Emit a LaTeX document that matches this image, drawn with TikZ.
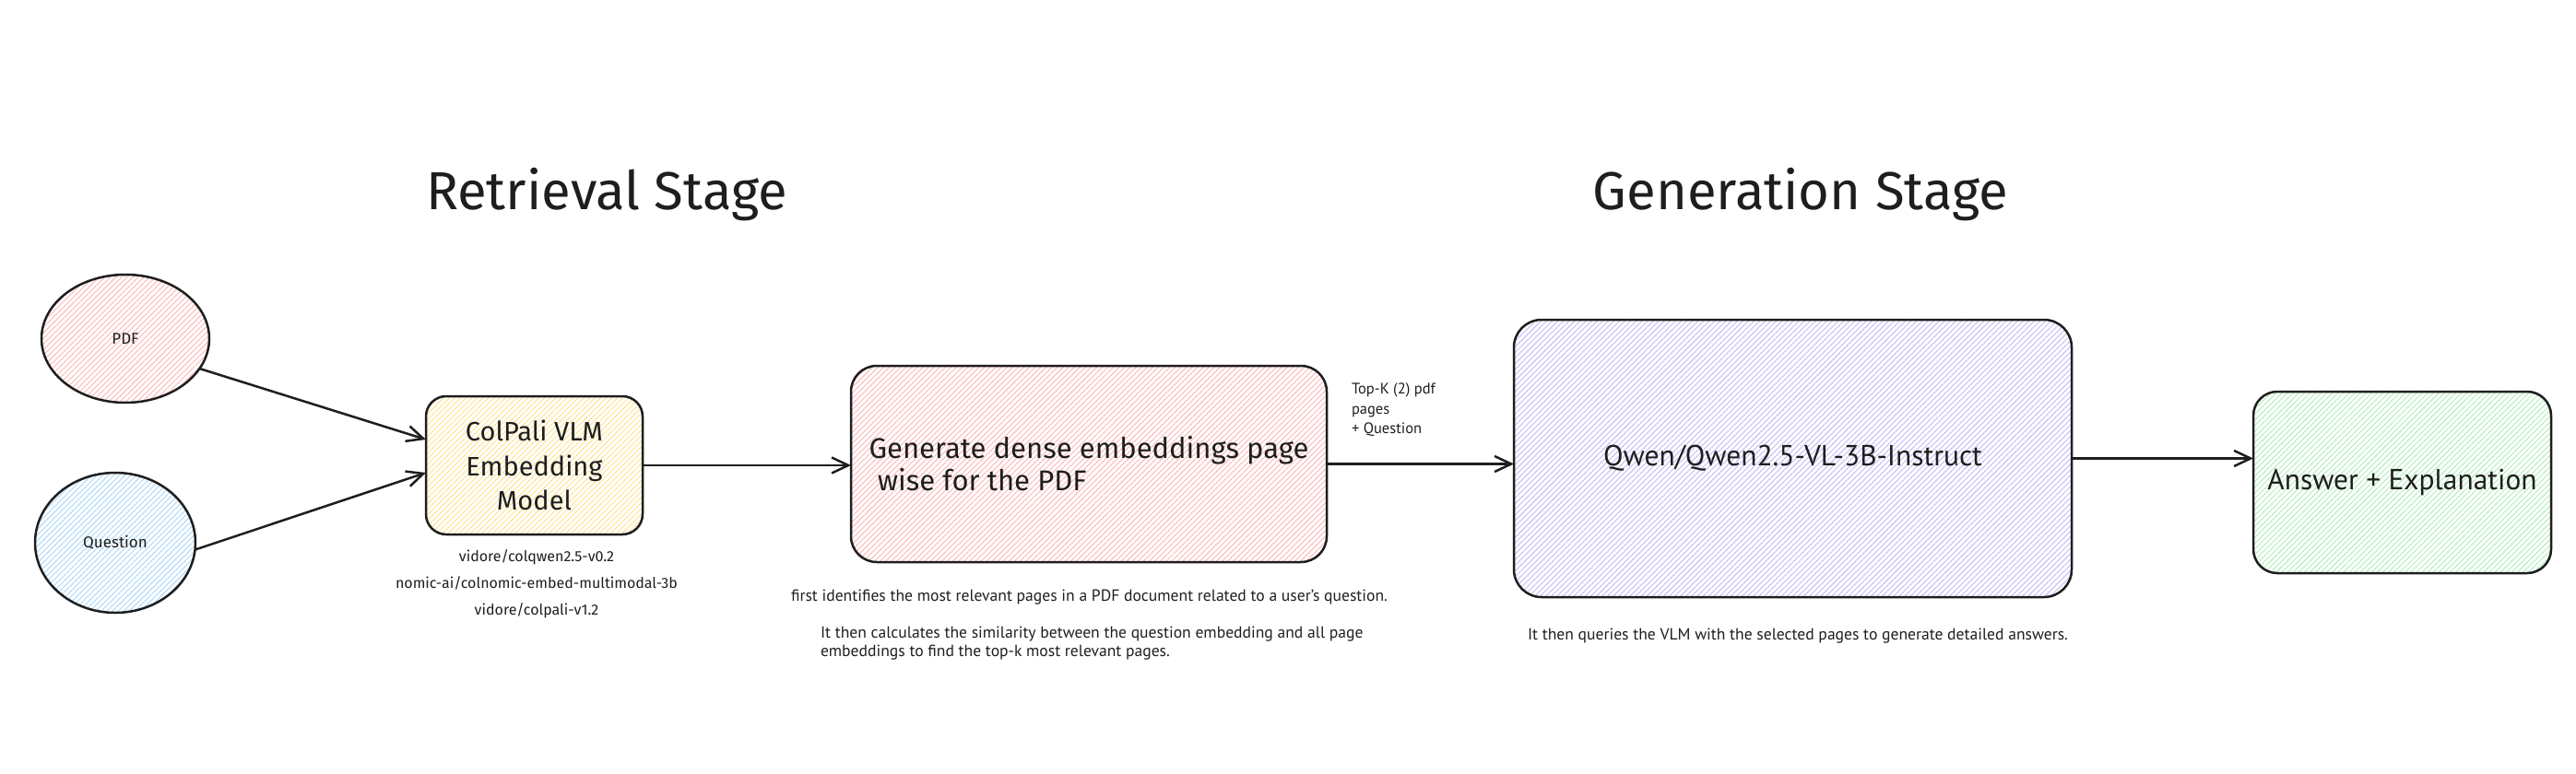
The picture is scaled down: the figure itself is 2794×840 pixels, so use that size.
\documentclass[tikz,border=0pt]{standalone}
\usepackage{fontspec}
\setmainfont{PT Sans}
\newfontfamily\handfont{Fira Sans}
\usetikzlibrary{shapes.geometric,arrows.meta,patterns.meta,calc}
\definecolor{hred}{HTML}{FFBDBD}
\definecolor{hblue}{HTML}{B2DBFB}
\definecolor{hyellow}{HTML}{FFE49A}
\definecolor{hpurple}{HTML}{C8C1F9}
\definecolor{hgreen}{HTML}{B6EEC0}
\definecolor{inkc}{HTML}{1E1E1E}
\begin{document}
\begin{tikzpicture}[x=1pt,y=-1pt,
  every node/.style={inner sep=0pt, outer sep=0pt, text=inkc},
  hatch/.style={pattern={Lines[angle=45,distance=4.3pt,line width=1.1pt]}, pattern color=#1},
  oval/.style={ellipse, draw=inkc, line width=2.5pt},
  rbox/.style={rectangle, draw=inkc, line width=2.5pt, rounded corners=#1},
  arr/.style={draw=inkc, line width=2.5pt, -{Straight Barb[length=18pt,width=17pt,line width=2.5pt]}},
  title/.style={font=\handfont\fontsize{58}{62}\selectfont, anchor=base},
  small/.style={font=\fontsize{17.6}{20}\selectfont},
  handsmall/.style={font=\handfont\fontsize{16}{20}\selectfont}
]
\useasboundingbox (0,0) rectangle (2794,840);

% titles
\node[title] (t1) at (658,227) {Retrieval Stage};
\node[title] (t2) at (1953,227) {Generation Stage};

% inputs
\node[oval, hatch=hred, minimum width=182pt, minimum height=139pt,
      font=\handfont\fontsize{17}{20}\selectfont] (pdf) at (136,367.5) {PDF};
\node[oval, hatch=hblue, minimum width=174pt, minimum height=152pt,
      font=\handfont\fontsize{17}{20}\selectfont] (question) at (125,589) {Question};

% ColPali
\node[rbox=22pt, hatch=hyellow, minimum width=235pt, minimum height=150pt,
      align=center, font=\handfont\fontsize{29}{37.5}\selectfont] (colpali) at (579.5,505)
      {ColPali VLM\\Embedding\\Model};
\node[handsmall] (m1) at (582,605) {vidore/colqwen2.5-v0.2};
\node[handsmall] (m2) at (582,633) {nomic-ai/colnomic-embed-multimodal-3b};
\node[handsmall] (m3) at (582,663) {vidore/colpali-v1.2};

% Generate
\node[rbox=28pt, hatch=hred, minimum width=516pt, minimum height=213pt,
      align=left, font=\handfont\fontsize{31}{35}\selectfont] (gen) at (1181,503.5)
      {Generate dense embeddings page\\\hspace*{0.3em}wise for the PDF};
\node[small, anchor=west] (d1) at (858,648)
      {first identifies the most relevant pages in a PDF document related to a user's question.};
\node[small, anchor=north west, align=left] (d2) at (890,680)
      {It then calculates the similarity between the question embedding and all page\\embeddings to find the top-k most relevant pages.};

% Qwen
\node[rbox=30pt, hatch=hpurple, minimum width=605pt, minimum height=301pt,
      font=\fontsize{31.5}{36}\selectfont] (qwen) at (1944.5,497.5) {Qwen/Qwen2.5-VL-3B-Instruct};
\node[small, anchor=west] (d3) at (1657,690)
      {It then queries the VLM with the selected pages to generate detailed answers.};

% Answer
\node[rbox=26pt, hatch=hgreen, minimum width=323pt, minimum height=197pt,
      font=\fontsize{31.5}{36}\selectfont] (answer) at (2605.5,523.5) {Answer + Explanation};

% label
\node[font=\fontsize{16.5}{21.5}\selectfont, anchor=north west, align=left] (lbl) at (1466,416)
      {Top-K (2) pdf\\pages\\+ Question};

% connectors
\draw[arr] (pdf.-22) -- ($(colpali.west)+(0,-28)$);
\draw[arr] (question.-5) -- ($(colpali.west)+(0,8)$);
\draw[arr] (colpali.east) -- (colpali.east -| gen.west);
\draw[arr] (gen.east) -- (gen.east -| qwen.west);
\draw[arr] (qwen.east) -- (qwen.east -| answer.west);
\end{tikzpicture}
\end{document}
